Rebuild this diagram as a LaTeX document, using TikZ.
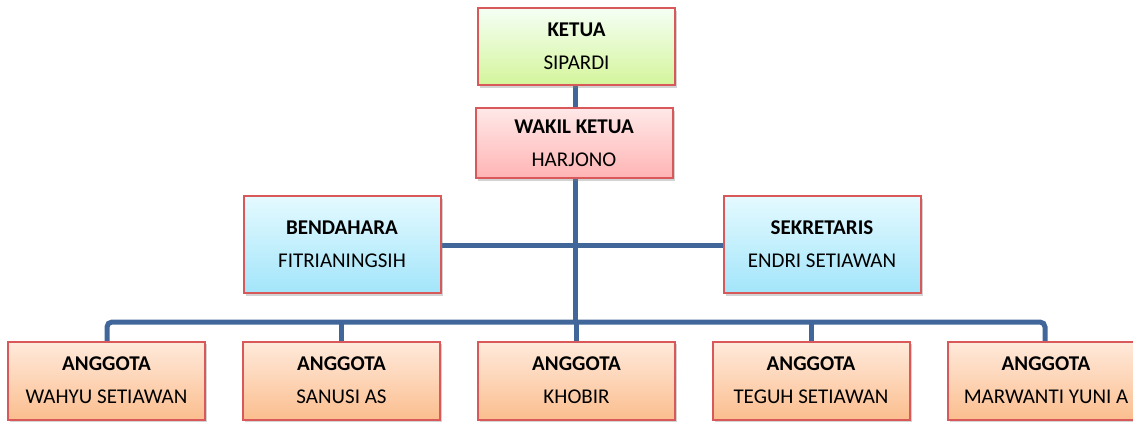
\documentclass[tikz,border=0pt]{standalone}
\usepackage{fontspec}
\setmainfont{Carlito}
\usetikzlibrary{shadows}
\definecolor{linkblue}{HTML}{41669A}
\definecolor{boxred}{HTML}{D9585A}
\begin{document}
\begin{tikzpicture}[x=1pt,y=-1pt,
    box/.style={draw=boxred, line width=2pt, minimum width=197pt, inner sep=0pt,
      align=center, font=\fontsize{21}{33}\selectfont,
      drop shadow={shadow xshift=2pt, shadow yshift=-2.5pt, opacity=.35}},
    ketuabox/.style={box, minimum height=77pt, top color=green!4!white, bottom color={rgb,255:red,212;green,245;blue,155}},
    wakilbox/.style={box, minimum height=70pt, top color={rgb,255:red,255;green,232;blue,232}, bottom color={rgb,255:red,255;green,180;blue,180}},
    stafbox/.style={box, minimum height=97pt, top color={rgb,255:red,228;green,250;blue,255}, bottom color={rgb,255:red,163;green,229;blue,250}},
    anggotabox/.style={box, minimum height=78pt, top color={rgb,255:red,255;green,234;blue,220}, bottom color={rgb,255:red,251;green,190;blue,142}},
    link/.style={draw=linkblue, line width=5pt}]
  \useasboundingbox (0,0) rectangle (1133,423);

  % Connectors
  \draw[link] (575,84) -- (575,110);
  \draw[link] (575,176) -- (575,322);
  \draw[link] (440,245) -- (726,245);
  \draw[link, rounded corners=5pt] (107,345) -- (107,322) -- (1045,322) -- (1045,345);
  \foreach \xa in {341,576,811}
    \draw[link] (\xa,322) -- (\xa,345);

  % Pengurus
  \node[ketuabox] (ketua) at (576.5,46.5) {\textbf{KETUA}\\SIPARDI};
  \node[wakilbox] (wakil) at (574,143) {\textbf{WAKIL KETUA}\\HARJONO};
  \node[stafbox] (bendahara) at (342,244.5) {\textbf{BENDAHARA}\\FITRIANINGSIH};
  \node[stafbox] (sekretaris) at (822,244.5) {\textbf{SEKRETARIS}\\ENDRI SETIAWAN};

  % Anggota
  \node[anggotabox] (anggota1) at (106.5,380.5) {\textbf{ANGGOTA}\\WAHYU SETIAWAN};
  \node[anggotabox] (anggota2) at (341.5,380.5) {\textbf{ANGGOTA}\\SANUSI AS};
  \node[anggotabox] (anggota3) at (576.5,380.5) {\textbf{ANGGOTA}\\KHOBIR};
  \node[anggotabox] (anggota4) at (811,380.5) {\textbf{ANGGOTA}\\TEGUH SETIAWAN};
  \node[anggotabox] (anggota5) at (1046,380.5) {\textbf{ANGGOTA}\\MARWANTI YUNI A};
\end{tikzpicture}
\end{document}
